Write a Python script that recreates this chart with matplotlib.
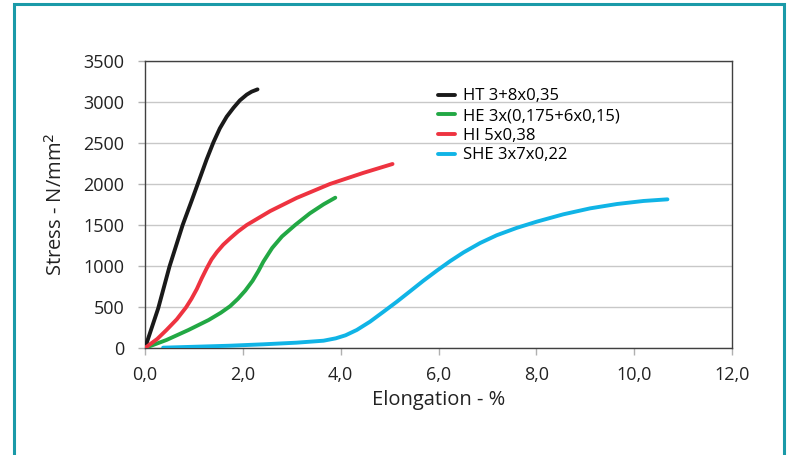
import matplotlib
matplotlib.use("Agg")
import matplotlib.pyplot as plt
from matplotlib.patches import Rectangle

plt.rcParams['font.family'] = ['Open Sans', 'DejaVu Sans']

ht_x = [0, 0.27, 0.50, 0.77, 0.95, 1.09, 1.26, 1.40, 1.53, 1.67, 1.81, 1.94, 2.08, 2.18, 2.30]
ht_y = [0, 484, 992, 1500, 1790, 2020, 2300, 2510, 2679, 2821, 2930, 3020, 3090, 3126, 3154]

he_x = [0, 0.44, 0.89, 1.30, 1.55, 1.74, 1.90, 2.05, 2.20, 2.32, 2.42, 2.60, 2.80, 3.07, 3.37, 3.65, 3.89]
he_y = [0, 98, 220, 341, 430, 510, 600, 700, 820, 940, 1053, 1220, 1360, 1500, 1642, 1752, 1833]

hi_x = [0, 0.25, 0.44, 0.65, 0.84, 0.95, 1.06, 1.16, 1.26, 1.36, 1.47, 1.60, 1.74, 1.90, 2.08, 2.56, 3.10, 3.78, 4.46, 5.06]
hi_y = [0, 110, 220, 350, 496, 600, 720, 850, 970, 1080, 1170, 1260, 1337, 1420, 1500, 1670, 1830, 2000, 2135, 2244]

she_x = [0.37, 1.06, 1.74, 2.42, 3.10, 3.65, 3.90, 4.10, 4.33, 4.60, 4.87, 5.15, 5.42, 5.69,
         5.97, 6.24, 6.51, 6.85, 7.19, 7.60, 8.01, 8.55, 9.10, 9.65, 10.19, 10.68]
she_y = [4, 16, 28, 45, 65, 89, 118, 155, 220, 321, 440, 565, 692, 820,
         945, 1060, 1165, 1280, 1375, 1465, 1541, 1630, 1703, 1756, 1793, 1813]

labels = ["HT 3+8x0,35", "HE 3x(0,175+6x0,15)", "HI 5x0,38", "SHE 3x7x0,22"]
colors = ["#1a1a1a", "#22a844", "#ee3340", "#10b4e6"]

x_ticks = [0, 2, 4, 6, 8, 10, 12]
x_ticklabels = ["0,0", "2,0", "4,0", "6,0", "8,0", "10,0", "12,0"]
y_ticks = [0, 500, 1000, 1500, 2000, 2500, 3000, 3500]

fig = plt.figure(figsize=(7.87, 4.55), dpi=100)
ax = fig.add_axes([145/787, 1-348/455, (732-145)/787, (348-61)/455])

for xs, ys, lab, c in zip([ht_x, he_x, hi_x, she_x], [ht_y, he_y, hi_y, she_y], labels, colors):
    ax.plot(xs, ys, color=c, lw=2.8, label=lab, solid_capstyle='round', solid_joinstyle='round', zorder=3)

ax.set_xlim(0, 12)
ax.set_ylim(0, 3500)
ax.set_xticks(x_ticks)
ax.set_xticklabels(x_ticklabels)
ax.set_yticks(y_ticks)
ax.yaxis.grid(True, color="#c8c8c8", lw=1.0)
ax.set_axisbelow(True)
for s in ax.spines.values():
    s.set_color("#404040")
    s.set_linewidth(1.0)
ax.tick_params(axis='both', colors="#b0b0b0", labelcolor="#222222", labelsize=13, length=5, width=1)
ax.tick_params(axis='x', pad=8)
ax.tick_params(axis='y', pad=10)

ax.set_xlabel("Elongation - %", fontsize=14.5, color="#222222")
ax.set_ylabel("Stress - N/mm$^2$", fontsize=14.5, color="#222222")
ax.xaxis.set_label_coords(0.5, -0.146)
ax.yaxis.set_label_coords(-0.133, 0.5)

leg = ax.legend(loc='upper left', bbox_to_anchor=(0.48, 0.945), frameon=False, fontsize=12,
                handlelength=1.0, handletextpad=0.45, labelspacing=0.22, borderpad=0.2)

fig.patches.append(Rectangle((13.5/787, -0.05), (784-13.5)/787, 1-4/455+0.05,
                             transform=fig.transFigure, fill=False, edgecolor="#1a9aa8", lw=2.2, clip_on=False))

fig.savefig("out.png", dpi=100)
